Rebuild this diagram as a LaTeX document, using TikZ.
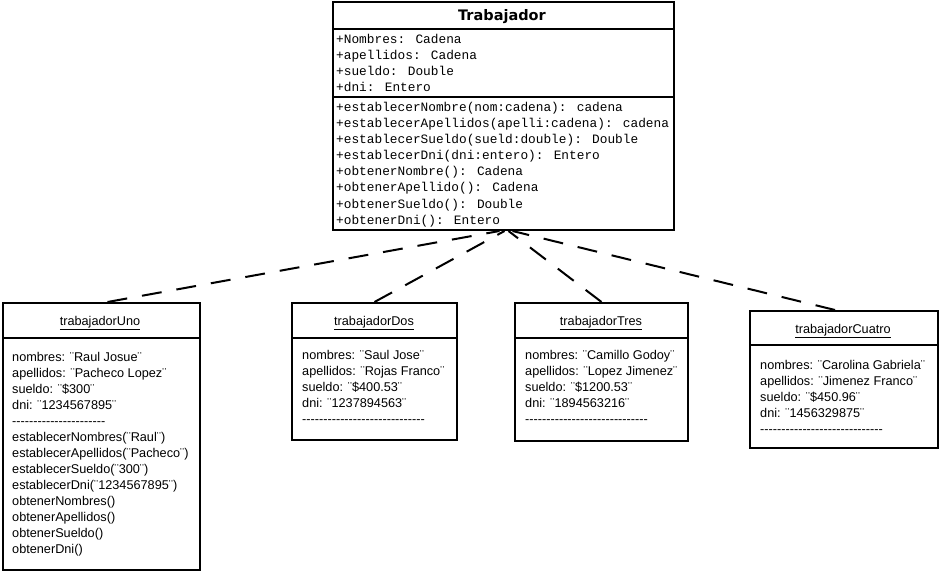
\documentclass[tikz,border=0pt]{standalone}
\usepackage{fontspec}
\setmainfont{Liberation Sans}
\newfontfamily\titlefont{DejaVu Sans}
\newfontfamily\codefont{Liberation Mono}
% a row of separate hyphens (kerns keep them from merging into dashes)
\newcommand\hyphenrow[1]{\foreach \i in {1,...,#1}{-\kern0pt}}
\begin{document}
\begin{tikzpicture}[x=1pt,y=-1pt,
  umlbox/.style={draw, line width=2pt, rectangle, inner sep=0pt, anchor=north west},
  sepline/.style={line width=2pt},
  codeline/.style={anchor=base west, inner sep=0pt, font=\codefont\fontsize{12.8}{16}\selectfont},
  objline/.style={anchor=base west, inner sep=0pt, font=\fontsize{12.7}{16}\selectfont},
  objtitle/.style={anchor=base, inner sep=0pt, font=\fontsize{12.7}{16}\selectfont},
  link/.style={line width=2pt, dash pattern=on 20pt off 15pt}]
\useasboundingbox[fill=white] (0,0) rectangle (939,572);

% class box
\node[umlbox, minimum width=341pt, minimum height=228pt] (trab) at (332,1) {};
\draw[sepline] ([yshift=-28pt]trab.north west) -- ([yshift=-28pt]trab.north east);
\draw[sepline] ([yshift=-96pt]trab.north west) -- ([yshift=-96pt]trab.north east);
\node[anchor=base, inner sep=0pt, font=\titlefont\bfseries\fontsize{14.5}{16}\selectfont] (trabT) at (502,21) {Trabajador};
\foreach \t [count=\k] in {{+Nombres: Cadena},{+apellidos: Cadena},{+sueldo: Double},{+dni: Entero}}
  \node[codeline] (trabA\k) at (336,{44+16*(\k-1)}) {\t};
\foreach \t [count=\k] in {{+establecerNombre(nom:cadena): cadena},
    {+establecerApellidos(apelli:cadena): cadena},
    {+establecerSueldo(sueld:double): Double},
    {+establecerDni(dni:entero): Entero},
    {+obtenerNombre(): Cadena},
    {+obtenerApellido(): Cadena},
    {+obtenerSueldo(): Double},
    {+obtenerDni(): Entero}}
  \node[codeline] (trabM\k) at (336,{112+16*(\k-1)}) {\t};

% object trabajadorUno
\node[umlbox, minimum width=197pt, minimum height=267pt] (uno) at (2,302) {};
\draw[sepline] ([yshift=-36pt]uno.north west) -- ([yshift=-36pt]uno.north east);
\node[objtitle] (unoT) at (100,325) {\underline{trabajadorUno}};
\foreach \t [count=\k] in {{nombres: ¨Raul Josue¨},{apellidos: ¨Pacheco Lopez¨},{sueldo: ¨\$300¨},{dni: ¨1234567895¨},
    {\hyphenrow{22}},
    {establecerNombres(¨Raul¨)},{establecerApellidos(¨Pacheco¨)},{establecerSueldo(¨300¨)},
    {establecerDni(¨1234567895¨)},{obtenerNombres()},{obtenerApellidos()},{obtenerSueldo()},{obtenerDni()}}
  \node[objline] (unoL\k) at (12,{361+16*(\k-1)}) {\t};

% object trabajadorDos
\node[umlbox, minimum width=165pt, minimum height=137pt] (dos) at (291,302) {};
\draw[sepline] ([yshift=-36pt]dos.north west) -- ([yshift=-36pt]dos.north east);
\node[objtitle] (dosT) at (374,325) {\underline{trabajadorDos}};
\foreach \t [count=\k] in {{nombres: ¨Saul Jose¨},{apellidos: ¨Rojas Franco¨},{sueldo: ¨\$400.53¨},{dni: ¨1237894563¨},
    {\hyphenrow{29}}}
  \node[objline] (dosL\k) at (302,{359+16*(\k-1)}) {\t};

% object trabajadorTres
\node[umlbox, minimum width=173pt, minimum height=138pt] (tres) at (514,302) {};
\draw[sepline] ([yshift=-36pt]tres.north west) -- ([yshift=-36pt]tres.north east);
\node[objtitle] (tresT) at (601,325) {\underline{trabajadorTres}};
\foreach \t [count=\k] in {{nombres: ¨Camillo Godoy¨},{apellidos: ¨Lopez Jimenez¨},{sueldo: ¨\$1200.53¨},{dni: ¨1894563216¨},
    {\hyphenrow{29}}}
  \node[objline] (tresL\k) at (525,{359+16*(\k-1)}) {\t};

% object trabajadorCuatro
\node[umlbox, minimum width=188pt, minimum height=137pt] (cuatro) at (749,310) {};
\draw[sepline] ([yshift=-35pt]cuatro.north west) -- ([yshift=-35pt]cuatro.north east);
\node[objtitle] (cuatroT) at (843,333) {\underline{trabajadorCuatro}};
\foreach \t [count=\k] in {{nombres: ¨Carolina Gabriela¨},{apellidos: ¨Jimenez Franco¨},{sueldo: ¨\$450.96¨},{dni: ¨1456329875¨},
    {\hyphenrow{29}}}
  \node[objline] (cuatroL\k) at (760,{369+16*(\k-1)}) {\t};

% instance-of links
\draw[link] ([xshift=6pt]uno.north) -- ([xshift=-4pt]trab.south);
\draw[link] (dos.north) -- ([xshift=1pt]trab.south);
\draw[link] (tres.north) -- ([xshift=5pt]trab.south);
\draw[link] ([xshift=-9pt]cuatro.north) -- ([xshift=9pt]trab.south);
\end{tikzpicture}
\end{document}
